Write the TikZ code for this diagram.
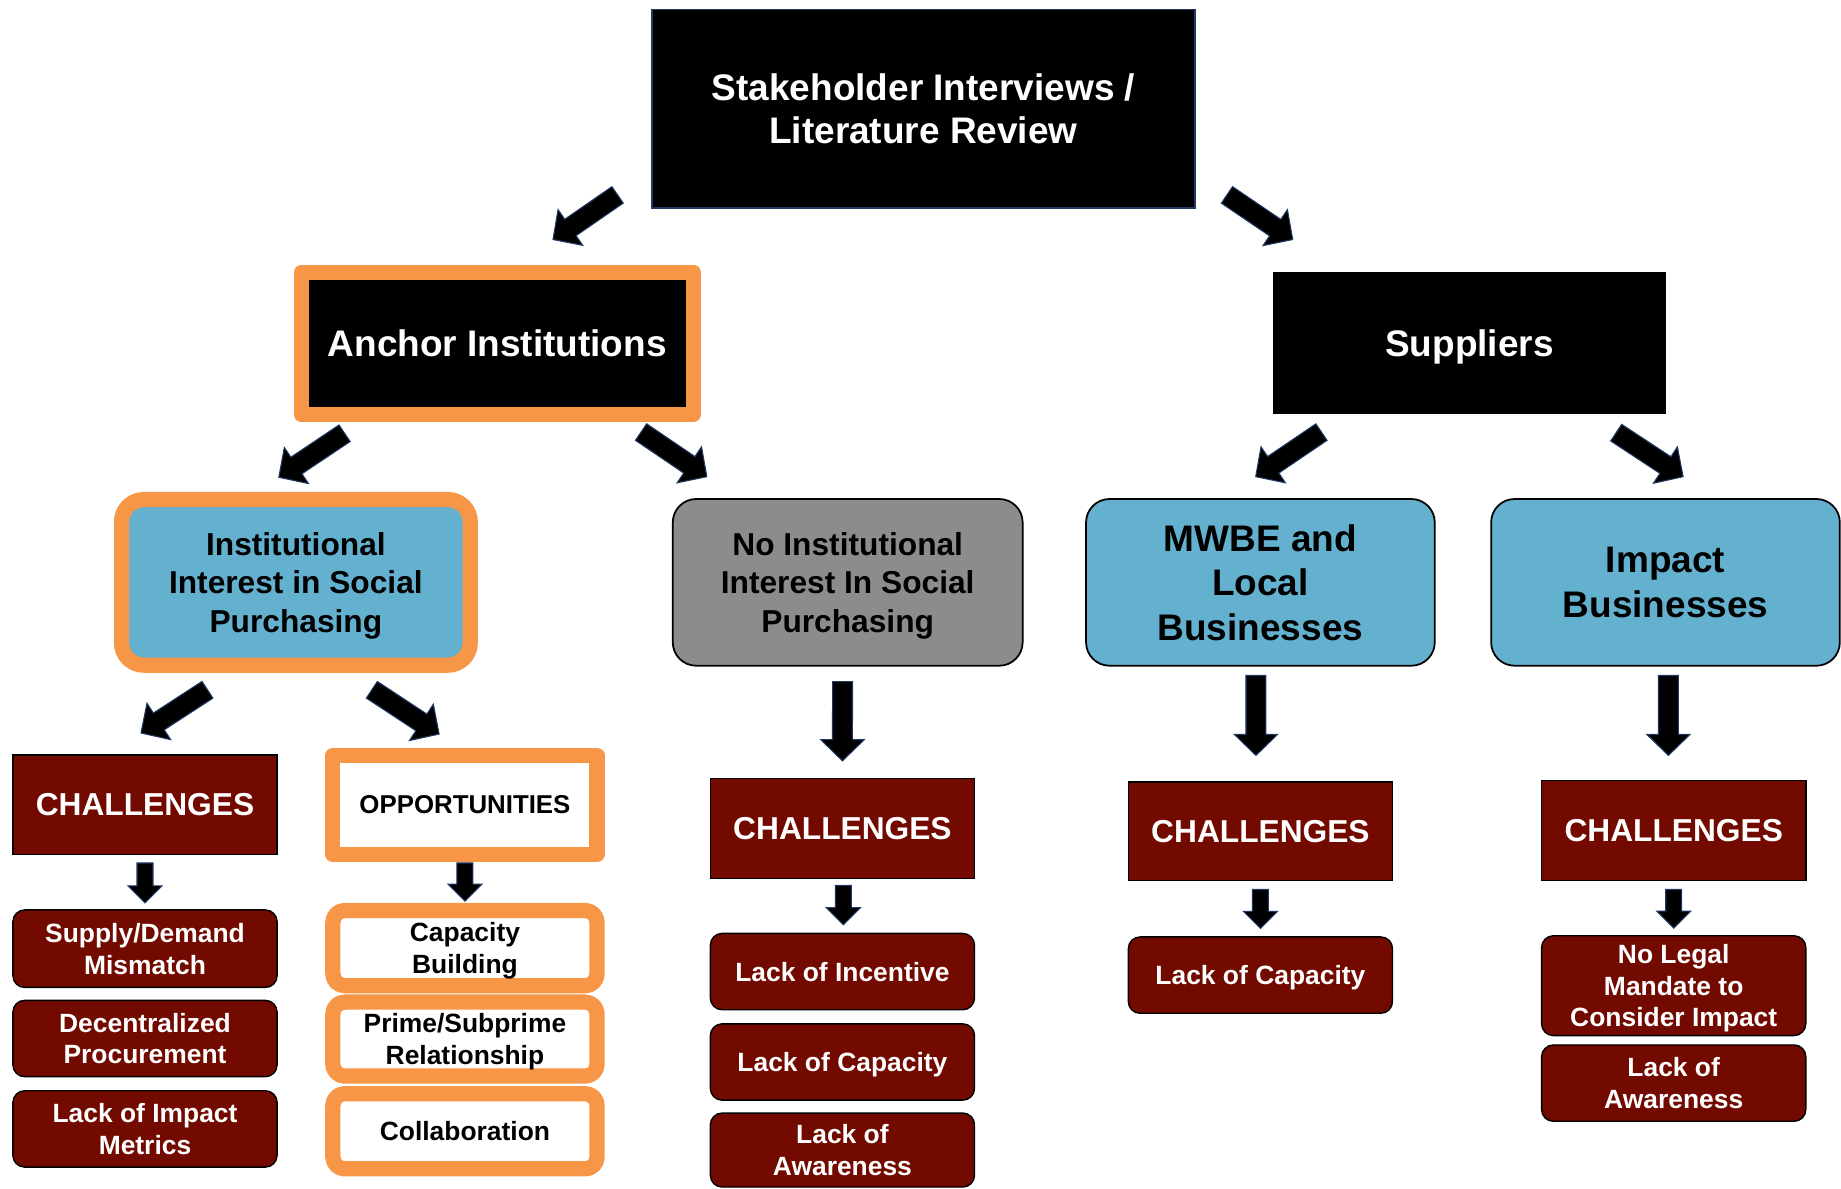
\documentclass[tikz,border=0pt]{standalone}
\usepackage{fontspec}
\setmainfont{Liberation Sans}
\usetikzlibrary{calc}
\definecolor{navy}{HTML}{1F3864}
\definecolor{maroon}{HTML}{720A00}
\definecolor{sky}{HTML}{63B1CE}
\definecolor{peach}{HTML}{F79646}
\definecolor{slate}{HTML}{8C8C8C}
\tikzset{
  box/.style    = {inner sep=0pt, outer sep=0pt, align=center, text depth=-4pt, font=\bfseries},
  head/.style   = {box, fill=black, text=white, font=\bfseries\fontsize{31.5}{37}\selectfont},
  framed/.style = {draw=peach, line width=13pt, line join=round},
  group/.style  = {box, draw=black, line width=1.5pt, rounded corners=20pt,
                   minimum width=297pt, minimum height=142pt,
                   font=\bfseries\fontsize{27}{33}\selectfont},
  big/.style    = {font=\bfseries\fontsize{31.5}{38}\selectfont},
  chal/.style   = {box, fill=maroon, draw=black, line width=1.2pt, text=white,
                   minimum width=225pt, minimum height=85pt,
                   font=\bfseries\fontsize{27}{33}\selectfont},
  item/.style   = {box, fill=maroon, draw=black, line width=1.2pt, text=white,
                   rounded corners=10pt, minimum width=225pt, minimum height=65pt,
                   font=\bfseries\fontsize{22.5}{27}\selectfont},
  opt/.style    = {box, fill=white, framed, rounded corners=10pt,
                   minimum width=225pt, minimum height=64pt,
                   font=\bfseries\fontsize{22.5}{27}\selectfont},
  fat/.style n args={3}{draw=navy, fill=black, line width=0.9pt, line join=miter,
    to path={let \p1=(\tikztostart), \p2=(\tikztotarget),
      \n1={atan2(\y2-\y1,\x2-\x1)}, \n2={veclen(\x2-\x1,\y2-\y1)} in
      ($(\p1)+({\n1+90}:#1)$) -- ($(\p1)+(\n1:{\n2-#3})+({\n1+90}:#1)$)
      -- ($(\p1)+(\n1:{\n2-#3})+({\n1+90}:#2)$) -- (\p2)
      -- ($(\p1)+(\n1:{\n2-#3})+({\n1-90}:#2)$)
      -- ($(\p1)+(\n1:{\n2-#3})+({\n1-90}:#1)$)
      -- ($(\p1)+({\n1-90}:#1)$) -- cycle}},
  bigarr/.style   = {fat={8.5}{18.5}{18}},
  smallarr/.style = {fat={6.8}{14.5}{14.5}},
}

\begin{document}
\begin{tikzpicture}[x=1pt,y=1pt]
  \useasboundingbox (0,0) rectangle (1568,-1012);

  \node[head, draw=navy, line width=1.5pt, minimum width=463pt, minimum height=169pt]
    (stake) at (786.5,-92.5) {Stakeholder Interviews /\\Literature Review};
  \node[head, framed, minimum width=334pt, minimum height=121pt]
    (anchor) at (423.5,-292.5) {Anchor Institutions};
  \node[head, minimum width=335pt, minimum height=121pt]
    (suppliers) at (1251.5,-292.5) {Suppliers};

  \node[group, fill=sky, framed, rounded corners=19pt, minimum height=141pt]
    (inst) at (252,-496) {Institutional\\Interest in Social\\Purchasing};
  \node[group, fill=slate, minimum width=298pt]
    (noinst) at (722,-496) {No Institutional\\Interest In Social\\Purchasing};
  \node[group, big, fill=sky] (mwbe) at (1073.5,-496) {MWBE and\\Local\\Businesses};
  \node[group, big, fill=sky] (impact) at (1418.5,-496) {Impact\\Businesses};

  \node[chal] (chA) at (123.5,-685.5) {CHALLENGES};
  \node[box, fill=white, framed, minimum width=225pt, minimum height=84pt,
        font=\bfseries\fontsize{22}{27}\selectfont] (opp) at (396,-685.5) {OPPORTUNITIES};
  \node[chal] (chB) at (717.5,-705.5) {CHALLENGES};
  \node[chal, minimum height=84pt] (chC) at (1073.5,-708) {CHALLENGES};
  \node[chal] (chD) at (1425.5,-707.5) {CHALLENGES};

  \node[item, minimum height=66pt] (supply) at (123.5,-808) {Supply/Demand\\Mismatch};
  \node[item] (decent) at (123.5,-884.5) {Decentralized\\Procurement};
  \node[item] (metrics) at (123.5,-961.5) {Lack of Impact\\Metrics};

  \node[opt] (capb) at (396,-807.5) {Capacity\\Building};
  \node[opt, minimum height=63pt] (prime) at (396,-885) {Prime/Subprime\\Relationship};
  \node[opt] (collab) at (396,-963.5) {Collaboration};

  \node[item] (incent) at (717.5,-827.5) {Lack of Incentive};
  \node[item] (capB) at (717.5,-904.5) {Lack of Capacity};
  \node[item, minimum height=63pt] (awareB) at (717.5,-979.5) {Lack of\\Awareness};

  \node[item] (capC) at (1073.5,-830.5) {Lack of Capacity};

  \node[item, minimum height=85pt] (legal) at (1425.5,-839.5) {No Legal\\Mandate to\\Consider Impact};
  \node[item] (awareD) at (1425.5,-922.5) {Lack of\\Awareness};

  \path ([shift={(-29,11)}]stake.south west) coordinate (sA)
        ([shift={(47.5,28)}]anchor.north) coordinate (eA)
        ([shift={(27,11)}]stake.south east) coordinate (sB)
        ([shift={(17,28)}]suppliers.north west) coordinate (eB)
        ([shift={(37,-16)}]anchor.south west) coordinate (sC)
        ([shift={(-14.5,19)}]inst.north) coordinate (eC)
        ([shift={(-44.5,-15)}]anchor.south east) coordinate (sD)
        ([shift={(29,19)}]noinst.north west) coordinate (eD)
        ([shift={(41.5,-15)}]suppliers.south west) coordinate (sE)
        ([shift={(-4,19)}]mwbe.north) coordinate (eE)
        ([shift={(-42.5,-15.5)}]suppliers.south east) coordinate (sF)
        ([shift={(15,19)}]impact.north) coordinate (eF)
        ([shift={(-75.3,-21)}]inst.south) coordinate (sG)
        ([shift={(-3.4,18.7)}]chA.north) coordinate (eG)
        ([shift={(64.7,-21)}]inst.south) coordinate (sH)
        ([shift={(-22,18.3)}]opp.north) coordinate (eH)
        ([shift={(-4.4,-13.5)}]noinst.south) coordinate (sI)
        ([shift={(0,15)}]chB.north) coordinate (eI)
        ([shift={(-3.8,-8.3)}]mwbe.south) coordinate (sJ)
        ([shift={(-3.8,22.6)}]chC.north) coordinate (eJ)
        ([shift={(2.5,-8.3)}]impact.south) coordinate (sK)
        ([shift={(-4.5,21.6)}]chD.north) coordinate (eK)
        ([yshift=-7]chA.south) coordinate (sL)
        ([yshift=6]supply.north) coordinate (eL)
        ([yshift=-7.5]opp.south) coordinate (sM)
        ([yshift=8]capb.north) coordinate (eM)
        ([shift={(0.8,-6)}]chB.south) coordinate (sN)
        ([shift={(0.8,7.4)}]incent.north) coordinate (eN)
        ([yshift=-7.6]chC.south) coordinate (sO)
        ([yshift=7.3]capC.north) coordinate (eO)
        ([yshift=-7.6]chD.south) coordinate (sP)
        ([yshift=6.5]legal.north) coordinate (eP);

  \draw[bigarr] (sA) to (eA);
  \draw[bigarr] (sB) to (eB);
  \draw[bigarr] (sC) to (eC);
  \draw[bigarr] (sD) to (eD);
  \draw[bigarr] (sE) to (eE);
  \draw[bigarr] (sF) to (eF);
  \draw[bigarr] (sG) to (eG);
  \draw[bigarr] (sH) to (eH);
  \draw[bigarr] (sI) to (eI);
  \draw[bigarr] (sJ) to (eJ);
  \draw[bigarr] (sK) to (eK);
  \draw[smallarr] (sL) to (eL);
  \draw[smallarr] (sM) to (eM);
  \draw[smallarr] (sN) to (eN);
  \draw[smallarr] (sO) to (eO);
  \draw[smallarr] (sP) to (eP);
\end{tikzpicture}
\end{document}
